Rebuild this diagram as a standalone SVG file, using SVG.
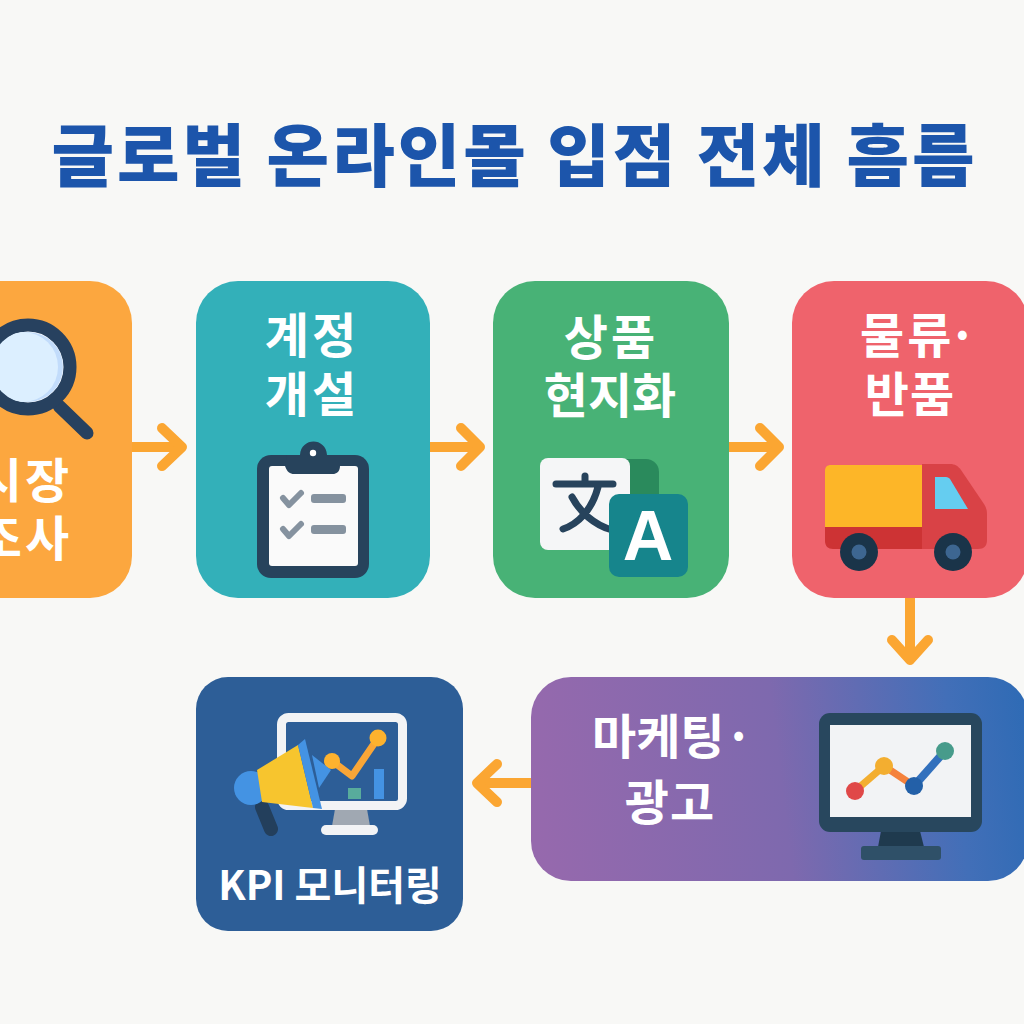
<svg xmlns="http://www.w3.org/2000/svg" width="1024" height="1024" viewBox="0 0 1024 1024">
<defs>
<linearGradient id="g5" gradientUnits="userSpaceOnUse" x1="531" y1="800" x2="1028" y2="740"><stop offset="0" stop-color="#9669ad"/><stop offset="0.5" stop-color="#7e69ae"/><stop offset="0.85" stop-color="#426fb8"/><stop offset="1" stop-color="#2f6bb5"/></linearGradient>
<clipPath id="lens"><circle cx="28" cy="367" r="36"/></clipPath>
</defs>
<style>
text{font-family:"Noto Sans CJK KR","Noto Sans",sans-serif;font-weight:700;fill:#fff;text-anchor:middle}
.lbl{font-size:48px}
.wide{letter-spacing:3px}
.title{font-size:68px;font-weight:900;fill:#1c55ab}
.arrow{fill:none;stroke:#fba632;stroke-width:10;stroke-linecap:round;stroke-linejoin:round}
.shaft{fill:none;stroke:#fba632;stroke-width:10}
.chk{fill:none;stroke:#85929f;stroke-width:6;stroke-linecap:round;stroke-linejoin:round}
</style>
<rect width="1024" height="1024" fill="#f8f8f6"/>
<text id="title" class="title" x="513" y="181" textLength="923" lengthAdjust="spacing">글로벌 온라인몰 입점 전체 흠름</text>
<g id="connectors">
<path class="shaft" d="M132,447H182"/><path class="arrow" d="M162,428L182,447L162,466"/>
<path class="shaft" d="M430,447H480"/><path class="arrow" d="M461,428L480,447L461,466"/>
<path class="shaft" d="M729,447H779"/><path class="arrow" d="M760,428L779,447L760,466"/>
<path class="shaft" d="M910,598V659"/><path class="arrow" d="M892,640L910,660L928,640"/>
<path class="shaft" d="M531,783H480"/><path class="arrow" d="M497,764L477,783L497,802"/>
</g>
<g id="node-market">
<rect x="-100" y="281" width="232" height="317" rx="42" fill="#fca73f"/>
<path d="M59,406L87,433" stroke="#27415f" stroke-width="13" stroke-linecap="round"/>
<circle cx="28" cy="367" r="42" fill="#fafcff" stroke="#27415f" stroke-width="13"/>
<g clip-path="url(#lens)"><circle cx="28" cy="367" r="35" fill="#c2dcfb"/><circle cx="23" cy="367" r="35" fill="#dcefff"/></g>
<text class="lbl wide" x="25" y="498">시장</text>
<text class="lbl wide" x="25" y="556">조사</text>
</g>
<g id="node-account">
<rect x="196" y="281" width="234" height="317" rx="42" fill="#33b0b9"/>
<text class="lbl wide" x="312" y="353">계정</text>
<text class="lbl wide" x="312" y="412">개설</text>
<rect x="257" y="455" width="112" height="123" rx="14" fill="#27435c"/>
<rect x="269" y="466" width="89" height="100" rx="3" fill="#fafafa"/>
<path d="M287,455H300C301,437 326,437 327,455H340V466C340,472 336,474 333,474H294C290,474 287,472 285,466Z" fill="#27435c"/>
<circle cx="313" cy="453" r="3.2" fill="#fff"/>
<path class="chk" d="M283,498L289,505L301,493"/>
<path class="chk" d="M283,529L289,536L301,524"/>
<rect x="311" y="494" width="35" height="9" rx="3" fill="#85929f"/>
<rect x="311" y="525" width="35" height="9" rx="3" fill="#85929f"/>
</g>
<g id="node-localize">
<rect x="493" y="281" width="236" height="317" rx="42" fill="#48b276"/>
<text class="lbl wide" x="611" y="355">상품</text>
<text class="lbl" x="610" y="413">현지화</text>
<rect x="600" y="459" width="59" height="70" rx="13" fill="#2a8a5c"/>
<rect x="540" y="458" width="90" height="92" rx="8" fill="#f5f6f7"/>
<g fill="none" stroke="#27435c" stroke-width="7" stroke-linecap="round">
<path d="M556,484H613M585,476V484M598,487C592,510 578,524 563,529M572,497C580,512 594,525 612,530"/>
</g>
<rect x="609" y="494" width="79" height="83" rx="10" fill="#16858c"/>
<text x="648" y="560" style="font-family:'Liberation Sans',sans-serif;font-size:70px">A</text>
</g>
<g id="node-logistics">
<rect x="792" y="281" width="236" height="317" rx="42" fill="#ef636c"/>
<text class="lbl wide" x="860" y="353" style="text-anchor:start">물류<tspan dx="-6">·</tspan></text>
<text class="lbl" x="910" y="412" style="letter-spacing:1px">반품</text>
<path d="M922,464H950C955,464 958,466 961,470L984,504C986,507 987,510 987,514V540C987,546 984,549 978,549H922Z" fill="#d94246"/>
<path d="M825,527H922V549H833C828,549 825,546 825,541Z" fill="#cd3334"/>
<path d="M831,465H922V527H825V471C825,467 827,465 831,465Z" fill="#fdb628"/>
<path d="M935,477H946C948,477 949,478 950,479L968,509H935Z" fill="#65cdf0"/>
<circle cx="859" cy="552" r="19" fill="#1a3449"/><circle cx="859" cy="552" r="7.5" fill="#3d6691"/>
<circle cx="953" cy="552" r="19" fill="#1a3449"/><circle cx="953" cy="552" r="7.5" fill="#3d6691"/>
</g>
<g id="node-marketing">
<rect x="531" y="677" width="497" height="204" rx="40" fill="url(#g5)"/>
<text class="lbl" x="592" y="754" style="text-anchor:start">마케팅·</text>
<text class="lbl" x="670" y="820" style="letter-spacing:1px">광고</text>
<path d="M881,831H920L924,847H878Z" fill="#1f3a4e"/>
<rect x="861" y="846" width="80" height="14" rx="3" fill="#2f5068"/>
<rect x="819" y="713" width="163" height="119" rx="11" fill="#28475e"/>
<rect x="830" y="725" width="141" height="92" fill="#f2f3f5"/>
<path d="M855,791L884,766" stroke="#f3ae30" stroke-width="7"/>
<path d="M884,766L914,786" stroke="#f5823c" stroke-width="7"/>
<path d="M914,786L945,751" stroke="#3270bd" stroke-width="8"/>
<circle cx="855" cy="791" r="9" fill="#e04848"/>
<circle cx="884" cy="766" r="9" fill="#f3ae30"/>
<circle cx="914" cy="786" r="9" fill="#2360a8"/>
<circle cx="945" cy="751" r="9" fill="#479b8b"/>
</g>
<g id="node-kpi">
<rect x="196" y="677" width="267" height="254" rx="32" fill="#2d5e97"/>
<path d="M335,809H367L370,826H332Z" fill="#a0a8b2"/>
<rect x="321" y="825" width="57" height="10" rx="5" fill="#f2f3f5"/>
<rect x="281.500" y="717.500" width="121" height="88" rx="7" fill="none" stroke="#f2f3f5" stroke-width="9"/>
<rect x="348" y="788" width="13" height="11" fill="#58ac9c"/>
<rect x="374" y="769" width="10" height="30" fill="#4493e3"/>
<path d="M332,761L352,776L378,738" fill="none" stroke="#f9a637" stroke-width="7" stroke-linejoin="round"/>
<circle cx="332" cy="761" r="8" fill="#fdb22e"/>
<circle cx="378" cy="738" r="8.500" fill="#fdb22e"/>
<path d="M312,755L331,770L319,788Z" fill="#4493e3"/>
<path d="M262,807L271,829" stroke="#233f5c" stroke-width="14" stroke-linecap="round"/>
<circle cx="251" cy="788" r="17" fill="#4493e3"/>
<path d="M257,770L298,745L313,808L262,802Z" fill="#f7c52e"/>
<path d="M298,745L305,739L322,809L313,808Z" fill="#4493e3"/>
<text x="330" y="900" style="font-size:40px">KPI 모니터링</text>
</g>
</svg>
